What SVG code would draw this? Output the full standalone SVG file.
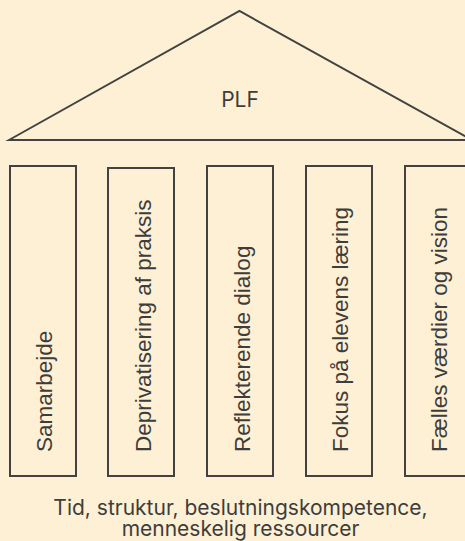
<svg xmlns="http://www.w3.org/2000/svg" width="465" height="541" viewBox="0 0 465 541">
  <style>
    .bg { fill: #fef0d5; }
    .shape { fill: none; stroke: #434240; stroke-width: 2; }
    .label { font-family: Inter, "Liberation Sans", sans-serif; font-size: 21px; fill: #3d3d3b; }
    .pillar-label { font-family: "Liberation Sans", Arial, sans-serif; font-size: 22.5px; fill: #3d3d3b; }
    .mid { text-anchor: middle; }
  </style>
  <rect class="bg" x="0" y="0" width="465" height="541"/>

  <!-- roof -->
  <g id="roof">
    <polygon class="shape" points="9,140 239.5,11 472,140"/>
    <text class="label mid" x="240" y="107">PLF</text>
  </g>

  <!-- pillars: text runs bottom to top -->
  <g id="pillar-1">
    <rect class="shape" x="10" y="166" width="66" height="310"/>
    <text class="pillar-label" transform="translate(51.5,452) rotate(-90)">Samarbejde</text>
  </g>
  <g id="pillar-2">
    <rect class="shape" x="108" y="168" width="66" height="308"/>
    <text class="pillar-label" transform="translate(150.5,452) rotate(-90)">Deprivatisering af praksis</text>
  </g>
  <g id="pillar-3">
    <rect class="shape" x="207" y="166" width="66" height="310"/>
    <text class="pillar-label" transform="translate(249.5,452) rotate(-90)">Reflekterende dialog</text>
  </g>
  <g id="pillar-4">
    <rect class="shape" x="306" y="166" width="66" height="310"/>
    <text class="pillar-label" transform="translate(348,452) rotate(-90)">Fokus på elevens læring</text>
  </g>
  <g id="pillar-5">
    <rect class="shape" x="405" y="166" width="66" height="310"/>
    <text class="pillar-label" transform="translate(447,452) rotate(-90)">Fælles værdier og vision</text>
  </g>

  <!-- foundation -->
  <g id="foundation">
    <text class="label mid" x="240.5" y="515">Tid, struktur, beslutningskompetence,</text>
    <text class="label mid" x="240.5" y="536">menneskelig ressourcer</text>
  </g>
</svg>
